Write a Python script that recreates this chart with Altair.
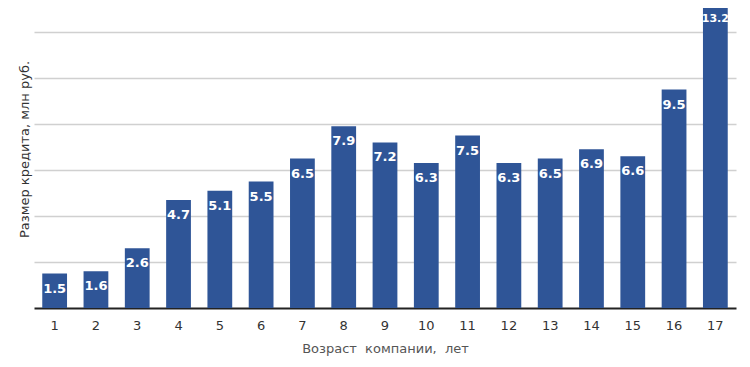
import altair as alt
import pandas as pd

ages = [str(i) for i in range(1, 18)]
values = [1.5, 1.6, 2.6, 4.7, 5.1, 5.5, 6.5, 7.9, 7.2, 6.3, 7.5, 6.3, 6.5, 6.9, 6.6, 9.5, 13.2]
grid_values = [2, 4, 6, 8, 10, 12]

df = pd.DataFrame({"age": ages, "value": values})
df["label"] = [f"{v:.1f}" for v in values]

x = alt.X(
    "age:N",
    sort=ages,
    scale=alt.Scale(paddingInner=0.4, paddingOuter=0.2),
    axis=alt.Axis(
        title="Возраст\u00a0 компании,\u00a0 лет",
        labelAngle=0,
        labelFont="DejaVu Sans",
        labelFontSize=13,
        labelColor="#333333",
        labelPadding=11,
        ticks=False,
        tickSize=0,
        domainColor="#222222",
        domainWidth=2,
        titleFont="DejaVu Sans",
        titleFontSize=13,
        titleFontWeight="normal",
        titleColor="#555555",
        titleY=34,
        titleBaseline="top",
    ),
)
y = alt.Y(
    "value:Q",
    scale=alt.Scale(domain=[0, 300 / 23], nice=False, zero=True),
    axis=alt.Axis(
        values=grid_values,
        labels=False,
        ticks=False,
        domain=False,
        grid=True,
        gridColor="#d0d0d0",
        gridWidth=1.5,
        title="Размер кредита, млн руб.",
        titleFont="DejaVu Sans",
        titleFontSize=13,
        titleFontWeight="normal",
        titleColor="#333333",
        titleAngle=270,
        titleAlign="center",
        titleBaseline="bottom",
        titleX=-3,
        titleY=141,
    ),
)

bars = alt.Chart(df).mark_bar(color="#2F5597").encode(x=x, y=y)
labels = alt.Chart(df).mark_text(
    baseline="middle", dy=15, color="white", fontWeight="bold", font="DejaVu Sans"
).encode(
    x=alt.X("age:N", sort=ages),
    y=alt.Y("value:Q"),
    text="label:N",
    size=alt.condition(alt.datum.value >= 10, alt.value(11), alt.value(13)),
)

chart = (
    alt.layer(bars, labels)
    .properties(
        width=702,
        height=300,
        autosize=alt.AutoSizeParams(type="none"),
        padding={"left": 26, "top": 0, "right": 6, "bottom": 51},
    )
    .configure_view(stroke=None)
)

chart.save("out.html", embed_options={"renderer": "svg", "actions": False})
